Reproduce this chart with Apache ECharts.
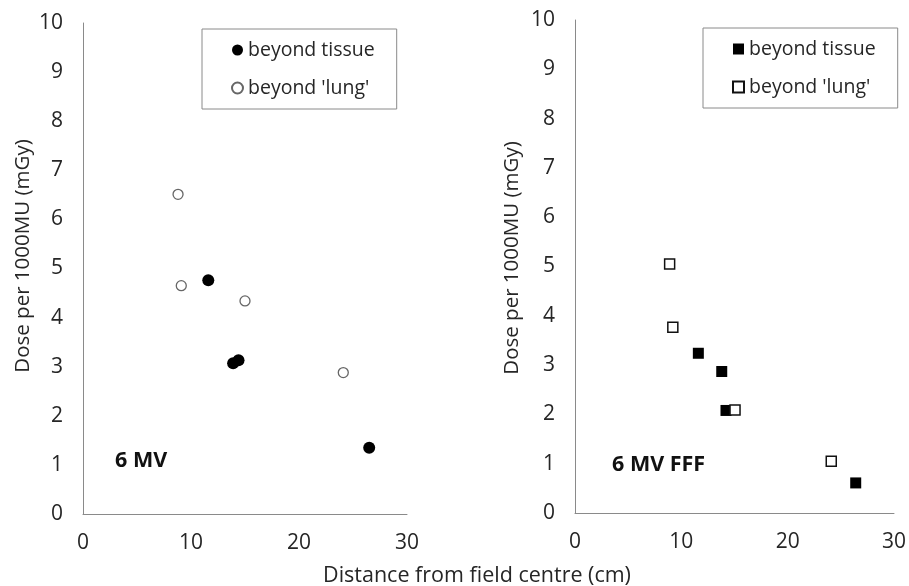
<!DOCTYPE html>
<html>
<head>
<meta charset="utf-8">
<script src="https://cdn.jsdelivr.net/npm/echarts@6/dist/echarts.min.js"></script>
<style>
    html, body { margin: 0; padding: 0; background: #fff; }
    #chart { width: 909px; height: 586px; }
</style>
</head>
<body>
<div id="chart"></div>
<script>
// 6 MV panel: distance (cm), dose per 1000MU (mGy)
var mvTissueX = [11.6, 13.9, 14.4, 26.5];
var mvTissueY = [4.76, 3.07, 3.13, 1.35];
var mvLungX = [8.8, 9.1, 15.0, 24.1];
var mvLungY = [6.51, 4.65, 4.34, 2.88];

// 6 MV FFF panel
var fffTissueX = [11.6, 13.8, 14.2, 26.4];
var fffTissueY = [3.24, 2.87, 2.08, 0.61];
var fffLungX = [8.9, 9.2, 15.05, 24.1];
var fffLungY = [5.05, 3.77, 2.09, 1.05];

var xTicks = [0, 10, 20, 30];
var yTicks = [0, 1, 2, 3, 4, 5, 6, 7, 8, 9, 10];

var fontName = "Open Sans";
var textColor = '#262626';

function pairs(xs, ys){
    var out = [];
    for(var i=0;i<xs.length;i++){
        out.push([xs[i], ys[i]]);
    }
    return out;
}

function xAxisFor(idx){
    return {
        gridIndex: idx, type: 'value',
        min: xTicks[0], max: xTicks[xTicks.length-1], interval: 10,
        axisLine: { show: true, onZero: false, lineStyle: { color: '#8a8a8a', width: 1 } },
        axisTick: { show: false },
        splitLine: { show: false },
        axisLabel: { color: textColor, fontSize: 21, fontFamily: fontName, margin: 19 }
    };
}

function yAxisFor(idx){
    return {
        gridIndex: idx, type: 'value',
        min: yTicks[0], max: yTicks[yTicks.length-1], interval: 1,
        axisLine: { show: true, onZero: false, lineStyle: { color: '#8a8a8a', width: 1 } },
        axisTick: { show: false },
        splitLine: { show: false },
        axisLabel: { color: textColor, fontSize: 21, fontFamily: fontName, margin: 20 }
    };
}

var legendBase = {
    orient: 'vertical',
    itemWidth: 11,
    itemHeight: 11,
    itemGap: 18,
    padding: [11, 22, 11, 29],
    borderColor: '#8a8a8a',
    borderWidth: 1,
    selectedMode: false,
    textStyle: { color: textColor, fontSize: 19.5, fontFamily: fontName, lineHeight: 20 }
};

var chart = echarts.init(document.getElementById('chart'));
var option = {
    animation: false,
    backgroundColor: '#fff',
    grid: [
        { left: 83, right: 502, top: 23, bottom: 72 },
        { left: 575, right: 13, top: 20, bottom: 73 }
    ],
    xAxis: [xAxisFor(0), xAxisFor(1)],
    yAxis: [yAxisFor(0), yAxisFor(1)],
    legend: [
        Object.assign({}, legendBase, {
            left: 202, top: 29,
            data: ['beyond tissue', "beyond 'lung'"]
        }),
        Object.assign({}, legendBase, {
            left: 703, top: 28,
            data: ['beyond tissue (FFF)', "beyond 'lung' (FFF)"],
            formatter: function(name){ return name.replace(' (FFF)', ''); }
        })
    ],
    series: [
        {
            name: 'beyond tissue', type: 'scatter', xAxisIndex: 0, yAxisIndex: 0,
            symbol: 'circle', symbolSize: 12,
            itemStyle: { color: '#000', opacity: 1 },
            data: pairs(mvTissueX, mvTissueY)
        },
        {
            name: "beyond 'lung'", type: 'scatter', xAxisIndex: 0, yAxisIndex: 0,
            symbol: 'circle', symbolSize: 10,
            itemStyle: { color: '#fff', borderColor: '#666', borderWidth: 1.3, opacity: 1 },
            data: pairs(mvLungX, mvLungY)
        },
        {
            name: 'beyond tissue (FFF)', type: 'scatter', xAxisIndex: 1, yAxisIndex: 1,
            symbol: 'rect', symbolSize: 11,
            itemStyle: { color: '#000', opacity: 1 },
            data: pairs(fffTissueX, fffTissueY)
        },
        {
            name: "beyond 'lung' (FFF)", type: 'scatter', xAxisIndex: 1, yAxisIndex: 1,
            symbol: 'rect', symbolSize: 10,
            itemStyle: { color: '#fff', borderColor: '#111', borderWidth: 1.5, opacity: 1 },
            data: pairs(fffLungX, fffLungY)
        }
    ],
    graphic: [
        {// y轴标题 左
            type: 'text', x: 23, y: 256, rotation: Math.PI / 2,
            style: { text: 'Dose per 1000MU (mGy)', fill: textColor, fontSize: 20.5, fontFamily: fontName,
                     align: 'center', verticalAlign: 'middle' }
        },
        {// y轴标题 右
            type: 'text', x: 512, y: 258, rotation: Math.PI / 2,
            style: { text: 'Dose per 1000MU (mGy)', fill: textColor, fontSize: 20.5, fontFamily: fontName,
                     align: 'center', verticalAlign: 'middle' }
        },
        {// x轴标题 共用
            type: 'text', x: 477, y: 576,
            style: { text: 'Distance from field centre (cm)', fill: textColor, fontSize: 21.5, fontFamily: fontName,
                     align: 'center', verticalAlign: 'middle' }
        },
        {
            type: 'text', x: 115, y: 461,
            style: { text: '6 MV', fill: '#111', fontSize: 21.5, fontWeight: 'bold', fontFamily: fontName,
                     verticalAlign: 'middle' }
        },
        {
            type: 'text', x: 612, y: 465,
            style: { text: '6 MV FFF', fill: '#111', fontSize: 21.5, fontWeight: 'bold', fontFamily: fontName,
                     verticalAlign: 'middle' }
        }
    ]
};
chart.setOption(option);
</script>
</body>
</html>
